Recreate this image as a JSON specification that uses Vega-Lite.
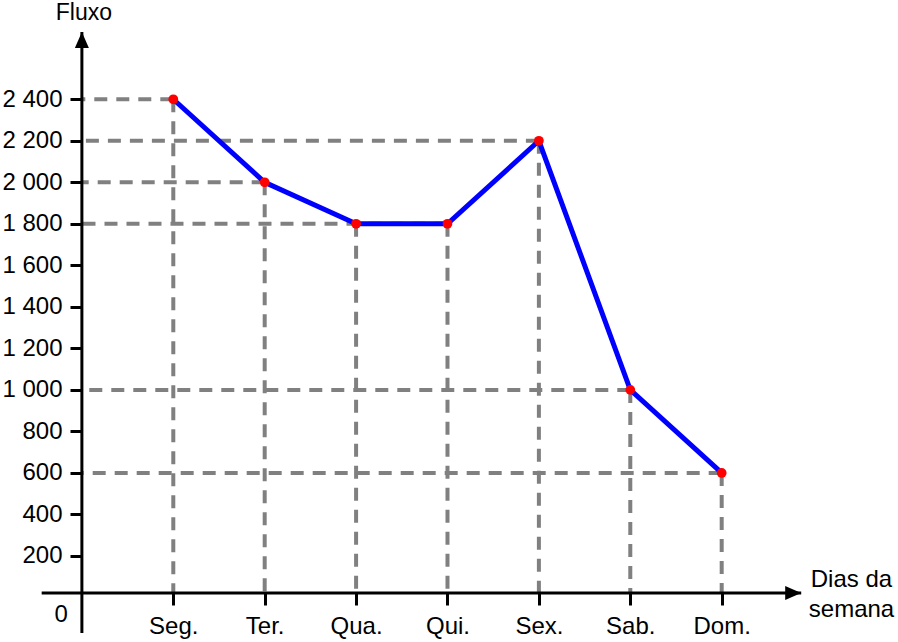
{
  "$schema": "https://vega.github.io/schema/vega-lite/v6.json",
  "width": 898,
  "height": 642,
  "autosize": "none",
  "padding": 0,
  "background": "white",
  "config": {
    "view": {"stroke": null},
    "font": "Liberation Sans",
    "axis": {
      "domain": false, "grid": false, "tickSize": 12, "tickWidth": 3, "tickColor": "black",
      "labelFont": "Liberation Sans", "labelFontSize": 24, "labelFontWeight": "normal", "labelColor": "black",
      "labelOverlap": false, "labelFlush": false, "labelBound": false
    }
  },
  "data": {
    "values": [
      {"dia": 1, "nome": "Seg.", "fluxo": 2400},
      {"dia": 2, "nome": "Ter.", "fluxo": 2000},
      {"dia": 3, "nome": "Qua.", "fluxo": 1800},
      {"dia": 4, "nome": "Qui.", "fluxo": 1800},
      {"dia": 5, "nome": "Sex.", "fluxo": 2200},
      {"dia": 6, "nome": "Sab.", "fluxo": 1000},
      {"dia": 7, "nome": "Dom.", "fluxo": 600}
    ]
  },
  "layer": [
    {
      "transform": [{"filter": "datum.dia != 3"}],
      "mark": {"type": "rule", "color": "#808080", "strokeWidth": 4, "strokeDash": [13, 9]},
      "encoding": {
        "x": {"field": "dia", "type": "quantitative", "scale": {"domain": [-0.896, 8.929], "nice": false, "zero": false}},
        "x2": {"datum": 0},
        "y": {"field": "fluxo", "type": "quantitative", "scale": {"domain": [-214.4, 2878.1], "nice": false, "zero": false}}
      }
    },
    {
      "mark": {"type": "rule", "color": "#808080", "strokeWidth": 4, "strokeDash": [13, 9], "y2Offset": -4.5},
      "encoding": {
        "x": {"field": "dia", "type": "quantitative", "scale": {"domain": [-0.896, 8.929], "nice": false, "zero": false}},
        "y": {"field": "fluxo", "type": "quantitative", "scale": {"domain": [-214.4, 2878.1], "nice": false, "zero": false}},
        "y2": {"datum": 0}
      }
    },
    {
      "data": {"values": [{"eixo": "y"}]},
      "mark": {"type": "rule", "color": "black", "strokeWidth": 3},
      "encoding": {
        "x": {"datum": 0, "type": "quantitative", "scale": {"domain": [-0.896, 8.929], "nice": false, "zero": false}},
        "y": {"datum": -171, "type": "quantitative", "scale": {"domain": [-214.4, 2878.1], "nice": false, "zero": false}},
        "y2": {"datum": 2724}
      }
    },
    {
      "data": {"values": [{"eixo": "x"}]},
      "mark": {"type": "rule", "color": "black", "strokeWidth": 3, "yOffset": -4.5},
      "encoding": {
        "x": {"datum": -0.44, "type": "quantitative", "scale": {"domain": [-0.896, 8.929], "nice": false, "zero": false}},
        "x2": {"datum": 7.87},
        "y": {"datum": 0, "type": "quantitative", "scale": {"domain": [-214.4, 2878.1], "nice": false, "zero": false}}
      }
    },
    {
      "data": {"values": [{"eixo": "y"}]},
      "mark": {"type": "point", "shape": "M0,0L0.875,2L-0.875,2Z", "filled": true, "color": "black", "opacity": 1, "size": 256},
      "encoding": {
        "x": {"datum": 0, "type": "quantitative", "scale": {"domain": [-0.896, 8.929], "nice": false, "zero": false}},
        "y": {"datum": 2724, "type": "quantitative", "scale": {"domain": [-214.4, 2878.1], "nice": false, "zero": false}}
      }
    },
    {
      "data": {"values": [{"eixo": "x"}]},
      "mark": {"type": "point", "shape": "M0,0L-2,-0.875L-2,0.875Z", "filled": true, "color": "black", "opacity": 1, "size": 256, "yOffset": -4.5},
      "encoding": {
        "x": {"datum": 7.87, "type": "quantitative", "scale": {"domain": [-0.896, 8.929], "nice": false, "zero": false}},
        "y": {"datum": 0, "type": "quantitative", "scale": {"domain": [-214.4, 2878.1], "nice": false, "zero": false}}
      }
    },
    {
      "mark": {"type": "line", "color": "#0000FF", "strokeWidth": 5},
      "encoding": {
        "x": {
          "field": "dia", "type": "quantitative",
          "scale": {"domain": [-0.896, 8.929], "nice": false, "zero": false},
          "axis": {
            "orient": "bottom", "offset": -49, "values": [1, 2, 3, 4, 5, 6, 7],
            "labelExpr": "['', 'Seg.', 'Ter.', 'Qua.', 'Qui.', 'Sex.', 'Sab.', 'Dom.'][datum.value]",
            "labelPadding": 9, "title": null
          }
        },
        "y": {
          "field": "fluxo", "type": "quantitative",
          "scale": {"domain": [-214.4, 2878.1], "nice": false, "zero": false},
          "axis": {
            "orient": "left", "offset": -82,
            "values": [200, 400, 600, 800, 1000, 1200, 1400, 1600, 1800, 2000, 2200, 2400],
            "labelExpr": "replace(format(datum.value, ','), ',', ' ')",
            "labelPadding": 8, "title": null
          }
        }
      }
    },
    {
      "mark": {"type": "circle", "color": "#FF0000", "opacity": 1, "size": 95},
      "encoding": {
        "x": {"field": "dia", "type": "quantitative", "scale": {"domain": [-0.896, 8.929], "nice": false, "zero": false}},
        "y": {"field": "fluxo", "type": "quantitative", "scale": {"domain": [-214.4, 2878.1], "nice": false, "zero": false}}
      }
    },
    {
      "data": {"values": [{"rotulo": "Fluxo"}]},
      "mark": {"type": "text", "font": "Liberation Sans", "fontSize": 23, "fontWeight": "normal", "color": "black", "align": "center", "baseline": "alphabetic", "dx": 2},
      "encoding": {
        "text": {"field": "rotulo"},
        "x": {"datum": 0, "type": "quantitative", "scale": {"domain": [-0.896, 8.929], "nice": false, "zero": false}},
        "y": {"datum": 2780, "type": "quantitative", "scale": {"domain": [-214.4, 2878.1], "nice": false, "zero": false}}
      }
    },
    {
      "data": {"values": [{"rotulo": "Dias da"}]},
      "mark": {"type": "text", "font": "Liberation Sans", "fontSize": 24, "fontWeight": "normal", "color": "black", "align": "center", "baseline": "alphabetic"},
      "encoding": {
        "text": {"field": "rotulo"},
        "x": {"datum": 8.42, "type": "quantitative", "scale": {"domain": [-0.896, 8.929], "nice": false, "zero": false}},
        "y": {"datum": 52, "type": "quantitative", "scale": {"domain": [-214.4, 2878.1], "nice": false, "zero": false}}
      }
    },
    {
      "data": {"values": [{"rotulo": "semana"}]},
      "mark": {"type": "text", "font": "Liberation Sans", "fontSize": 24, "fontWeight": "normal", "color": "black", "align": "center", "baseline": "alphabetic"},
      "encoding": {
        "text": {"field": "rotulo"},
        "x": {"datum": 8.42, "type": "quantitative", "scale": {"domain": [-0.896, 8.929], "nice": false, "zero": false}},
        "y": {"datum": -94, "type": "quantitative", "scale": {"domain": [-214.4, 2878.1], "nice": false, "zero": false}}
      }
    },
    {
      "data": {"values": [{"rotulo": "0"}]},
      "mark": {"type": "text", "font": "Liberation Sans", "fontSize": 24, "fontWeight": "normal", "color": "black", "align": "right", "baseline": "alphabetic"},
      "encoding": {
        "text": {"field": "rotulo"},
        "x": {"datum": -0.153, "type": "quantitative", "scale": {"domain": [-0.896, 8.929], "nice": false, "zero": false}},
        "y": {"datum": -118, "type": "quantitative", "scale": {"domain": [-214.4, 2878.1], "nice": false, "zero": false}}
      }
    }
  ]
}
